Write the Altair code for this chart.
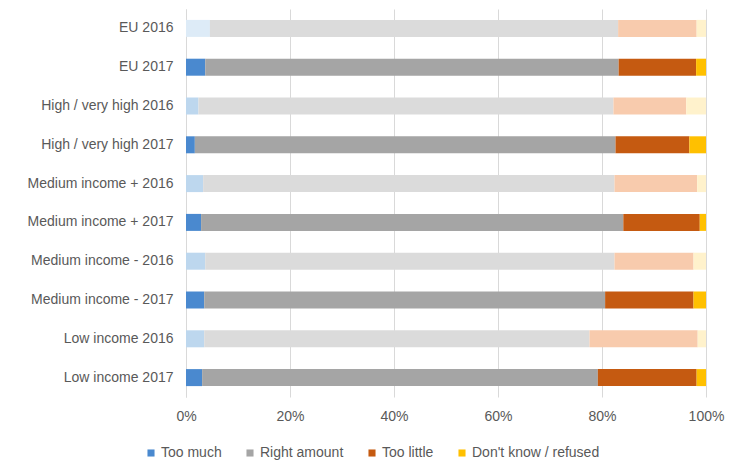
import altair as alt
import pandas as pd

rows = ["EU 2016", "EU 2017", "High / very high 2016", "High / very high 2017",
        "Medium income + 2016", "Medium income + 2017", "Medium income - 2016",
        "Medium income - 2017", "Low income 2016", "Low income 2017"]
years = [2016, 2017, 2016, 2017, 2016, 2017, 2016, 2017, 2016, 2017]
too_much = [4.6, 3.7, 2.4, 1.7, 3.3, 2.9, 3.7, 3.5, 3.5, 3.1]
right_amount = [78.5, 79.5, 79.8, 80.9, 79.1, 81.2, 78.7, 77.1, 74.1, 76.1]
too_little = [15.1, 14.9, 14.0, 14.2, 15.9, 14.7, 15.2, 17.0, 20.8, 19.0]
dont_know = [1.8, 1.9, 3.8, 3.2, 1.7, 1.2, 2.4, 2.4, 1.6, 1.8]

series = ["Too much", "Right amount", "Too little", "Don't know / refused"]
colors_2017 = ["#4A89CF", "#A5A5A5", "#C55A11", "#FFC000"]
colors_2016 = ["#BDD7EE", "#DBDBDB", "#F8CBAD", "#FFF2CC"]

records = []
for i, r in enumerate(rows):
    vals = [too_much[i], right_amount[i], too_little[i], dont_know[i]]
    for j, s in enumerate(series):
        key = s if years[i] == 2017 else s + " 2016"
        if years[i] == 2016 and j == 0 and r == "EU 2016":
            key = "Too much EU 2016"
        records.append({"row": r, "series": s, "key": key, "order": j, "value": vals[j]})
df = pd.DataFrame(records)

domain = series + [s + " 2016" for s in series] + ["Too much EU 2016"]
rng = colors_2017 + colors_2016 + ["#DDEBF7"]

font = "Liberation Sans"
chart = alt.Chart(df).mark_bar(size=17).encode(
    y=alt.Y("row:N", sort=rows, title=None,
            scale=alt.Scale(paddingInner=0.56, paddingOuter=0.28),
            axis=alt.Axis(ticks=False, domain=True, domainColor="#D9D9D9", labelPadding=13,
                          labelFont=font, labelFontSize=14, labelColor="#595959", grid=False)),
    x=alt.X("value:Q", stack="normalize", title=None,
            scale=alt.Scale(domain=[0, 1]),
            axis=alt.Axis(format=".0%", values=[0, 0.2, 0.4, 0.6, 0.8, 1.0], ticks=False,
                          domain=False, gridColor="#D9D9D9", labelPadding=12, labelFlush=False,
                          labelFont=font, labelFontSize=14, labelColor="#595959")),
    color=alt.Color("key:N", scale=alt.Scale(domain=domain, range=rng),
                    legend=alt.Legend(values=series, orient="none", legendX=-42, legendY=437,
                                      direction="horizontal", title=None, symbolType="square",
                                      symbolSize=50, symbolStrokeWidth=0, labelFont=font,
                                      labelFontSize=14, labelColor="#595959", columnPadding=21,
                                      labelOffset=3)),
    order=alt.Order("order:Q"),
).properties(
    width=520, height=388,
    autosize=alt.AutoSizeParams(type="none"),
    padding={"left": 178, "top": 1, "right": 20, "bottom": 66},
).configure_view(stroke=None)

chart.save("out.html", embed_options={"renderer": "svg", "actions": False})
